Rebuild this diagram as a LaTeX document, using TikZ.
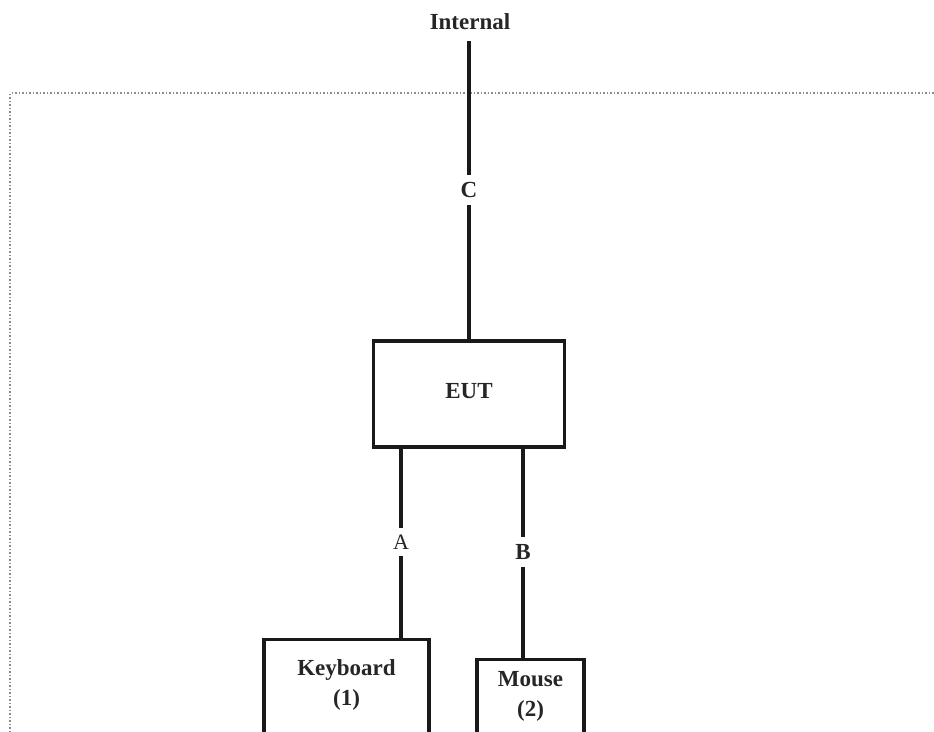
\documentclass[tikz,border=0pt]{standalone}
\usepackage{fontspec}
\setmainfont{Liberation Serif}
\begin{document}
\begin{tikzpicture}[x=1pt,y=-1pt,
  txt/.style={font=\fontsize{23}{30}\selectfont\bfseries, inner sep=0pt, align=center, text=black!85},
  boxst/.style={draw=black!90, line width=3.2pt, rectangle, inner sep=0pt},
  wire/.style={draw=black!90, line width=3.2pt},
  lbl/.style={fill=white, inner xsep=4pt, inner ysep=7pt, text=black!85, font=\fontsize{23}{28}\selectfont\bfseries},
  lblr/.style={fill=white, inner xsep=4pt, inner ysep=7pt, text=black!85, font=\fontsize{22}{28}\selectfont},
  frame/.style={draw=black!45, line width=1.5pt, dotted}]
\clip (0,0) rectangle (934,731);
\useasboundingbox (0,0) rectangle (934,731);
\fill[white] (0,0) rectangle (934,731);
% dotted frame
\draw[frame] (10,760) -- (10,93) -- (940,93);
% nodes
\node[txt, anchor=base, inner ysep=12pt, text depth=0pt] (internal) at (470,29) {Internal};
\node[boxst, minimum width=191pt, minimum height=106pt] (eut) at (469,394) {};
\node[txt] (eutt) at (469,391) {EUT};
\node[boxst, anchor=north, minimum width=165pt, minimum height=130pt] (kb) at (346.5,638) {};
\node[txt] (kbt) at (346.5,685) {Keyboard\\(1)};
\node[boxst, anchor=north, minimum width=107pt, minimum height=110pt] (ms) at (530.5,658) {};
\node[txt] (mst) at (530.5,696) {Mouse\\(2)};
% connectors
\coordinate (pc) at (469,190);
\coordinate (pa) at (401,542);
\coordinate (pb) at (523,552);
\draw[wire] (internal.south -| pc) -- (eut.north -| pc);
\draw[wire] (eut.south -| pa) -- (kb.north -| pa);
\draw[wire] (eut.south -| pb) -- (ms.north -| pb);
\node[lbl] (lc) at (pc) {C};
\node[lblr] (la) at (pa) {A};
\node[lbl] (lb) at (pb) {B};
\end{tikzpicture}
\end{document}
